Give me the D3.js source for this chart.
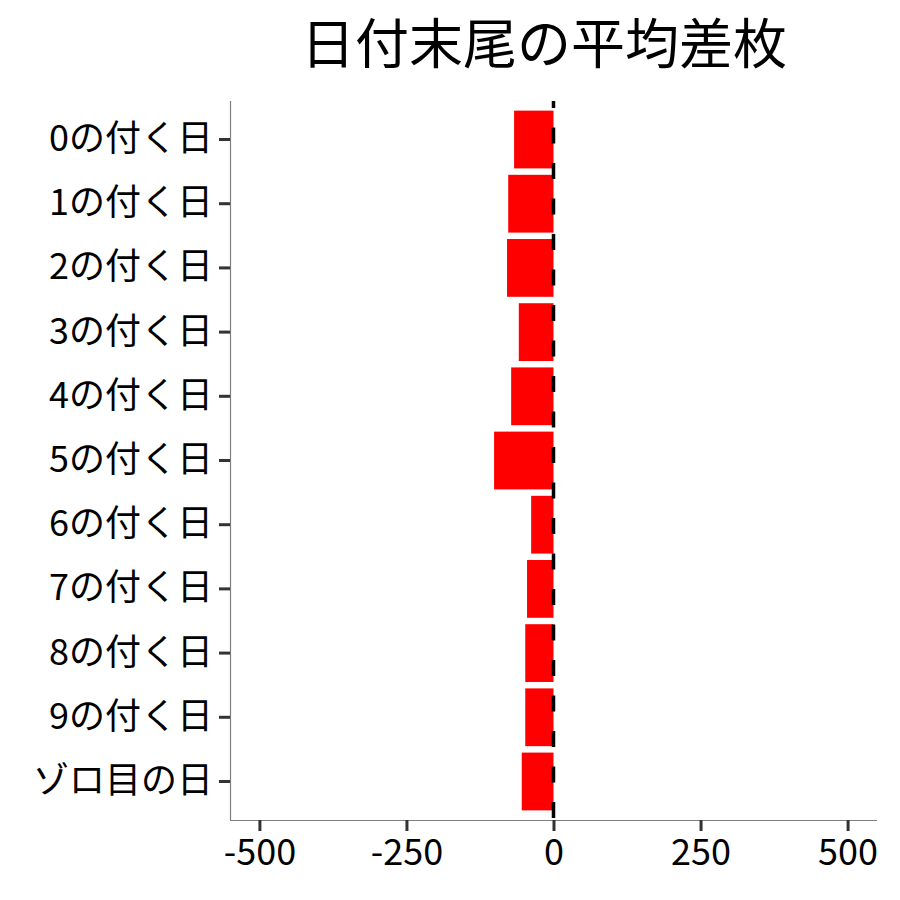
<!DOCTYPE html>
<html>
<head>
<meta charset="utf-8">
<script src="https://cdn.jsdelivr.net/npm/d3@7.9.0/dist/d3.min.js"></script>
<style>
  html, body { margin: 0; padding: 0; background: #fff; }
  text { font-family: "Noto Sans CJK JP", "Noto Sans", sans-serif; fill: #000; }
</style>
</head>
<body>
<div id="chart"></div>
<script>
// data
const categories = ['0の付く日', '1の付く日', '2の付く日', '3の付く日', '4の付く日', '5の付く日',
  '6の付く日', '7の付く日', '8の付く日', '9の付く日', 'ゾロ目の日'];
const diffs = [-67, -77, -79, -59, -72, -101, -38, -45, -48, -48, -54];
const xTicks = [-500, -250, 0, 250, 500];
const xDomain = [-550, 550];
const title = '日付末尾の平均差枚';

const W = 900, H = 900;
const m = { top: 101, right: 23, bottom: 80, left: 230 };

const svg = d3.select('#chart').append('svg').attr('width', W).attr('height', H);

const x = d3.scaleLinear().domain(xDomain).range([m.left, W - m.right]);
const y = d3.scaleBand().domain(categories).range([m.top, H - m.bottom])
  .paddingInner(0.1).paddingOuter(0.15);

// bars
svg.append('g').selectAll('rect').data(categories).enter().append('rect')
  .attr('x', (d, i) => x(Math.min(0, diffs[i])))
  .attr('width', (d, i) => Math.abs(x(diffs[i]) - x(0)))
  .attr('y', d => y(d))
  .attr('height', y.bandwidth())
  .attr('fill', '#ff0000');

// dashed zero line
svg.append('line')
  .attr('x1', x(0)).attr('x2', x(0))
  .attr('y1', m.top).attr('y2', H - m.bottom)
  .attr('stroke', '#000').attr('stroke-width', 3.5)
  .attr('stroke-dasharray', '16,19.5').attr('stroke-dashoffset', 9);

// axes (plain hyphen for negatives, like the reference)
const xAxis = svg.append('g').attr('transform', `translate(0,${H - m.bottom})`)
  .call(d3.axisBottom(x).tickValues(xTicks).tickSize(11).tickPadding(8).tickFormat(d => String(d)));
const yAxis = svg.append('g').attr('transform', `translate(${m.left},0)`)
  .call(d3.axisLeft(y).tickSize(11).tickPadding(6));

[xAxis, yAxis].forEach(g => {
  g.select('.domain').attr('stroke', '#7f7f7f').attr('stroke-width', 1.2);
  g.selectAll('.tick line').attr('stroke', '#333').attr('stroke-width', 3);
  g.selectAll('.tick text').attr('fill', '#000')
    .style('font-family', '"Noto Sans CJK JP", sans-serif');
});
// d3 draws outer ticks with the domain path; drop them like ggplot
xAxis.select('.domain').attr('d', `M${m.left},0.5H${W - m.right}`);
yAxis.select('.domain').attr('d', `M0.5,${m.top}V${H - m.bottom}`);
xAxis.selectAll('.tick text').style('font-size', '36px');
yAxis.selectAll('.tick text').style('font-size', '36px');

svg.append('text')
  .attr('x', 544).attr('y', 64)
  .attr('text-anchor', 'middle')
  .style('font-size', '54px')
  .text(title);
</script>
</body>
</html>
